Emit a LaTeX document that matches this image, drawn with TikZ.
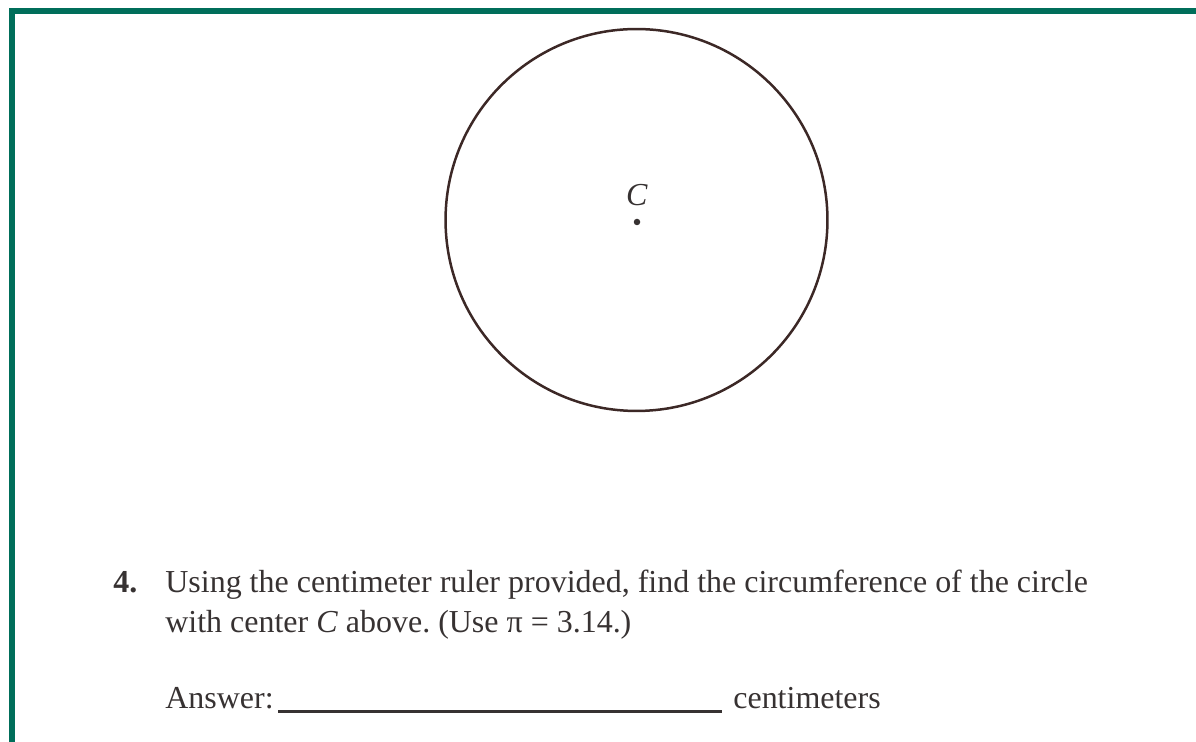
\documentclass[tikz,border=0pt]{standalone}
\usepackage{fontspec}
\setmainfont{Liberation Serif}
\usepackage{tikz}

\definecolor{framegreen}{RGB}{0,110,90}
\definecolor{circbrown}{RGB}{60,40,38}
\definecolor{inkgray}{RGB}{55,50,50}

\begin{document}
\frenchspacing
\begin{tikzpicture}[x=0.02cm,y=-0.02cm,
    txt/.style={anchor=base west,inner sep=0pt,text=inkgray,font=\fontsize{18.2}{22}\selectfont}]
    \useasboundingbox (0,0) rectangle (1196,742);
    \draw[framegreen,line width=0.12cm] (1196,11) -- (12,11) -- (12,742);
    \draw[circbrown,line width=0.05cm] (636.5,220) circle [radius=3.82cm];
    \fill[inkgray] (637,222) circle [radius=0.065cm];
    \node[txt,anchor=base] (clabel) at (637,206) {\textit{C}};
    \node[txt] (num) at (113,592) {\textbf{4.}};
    \node[txt] (line1) at (165,592) {Using the centimeter ruler provided, find the circumference of the circle};
    \node[txt] (line2) at (165,632) {with center \textit{C} above. (Use π = 3.14.)};
    \node[txt] (answer) at (165,708) {Answer:};
    \node[txt] (unit) at (733,708) {centimeters};
    \coordinate (blankstart) at (278,711);
    \coordinate (blankend) at (722,711);
    \draw[inkgray,line width=0.06cm] (blankstart) -- (blankend);
  \end{tikzpicture}
\end{document}
